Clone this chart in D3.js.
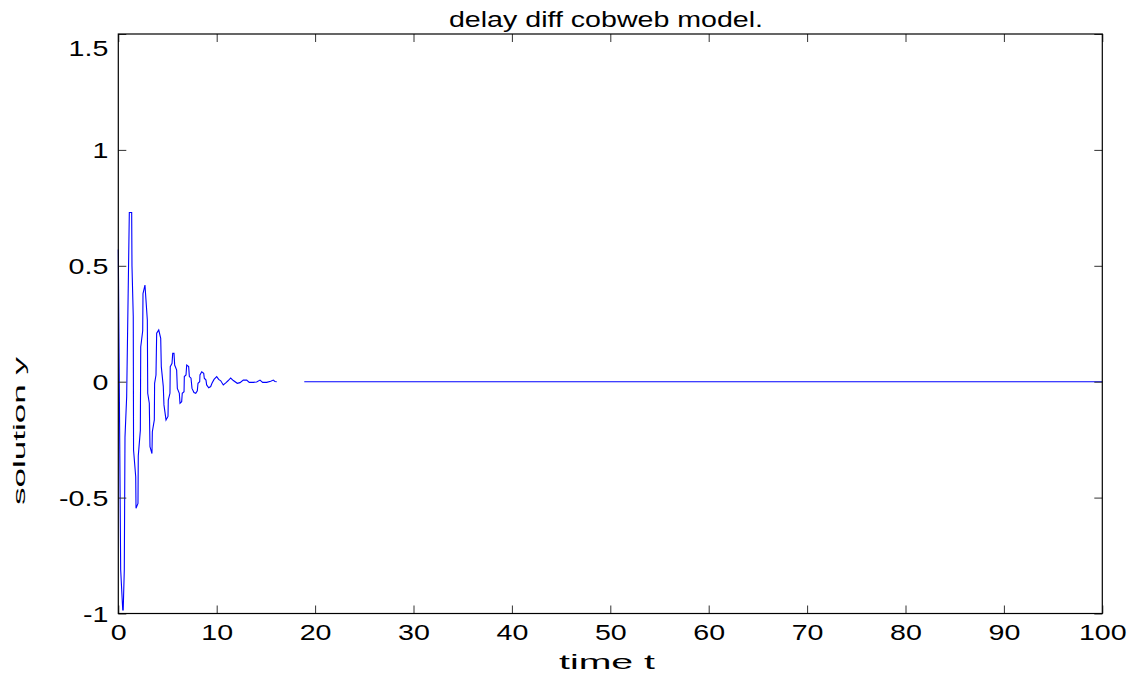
<!DOCTYPE html>
<html><head><meta charset="utf-8">
<script src="https://cdn.jsdelivr.net/npm/d3@7"></script>
<style>
html,body{margin:0;padding:0;background:#fff;}
svg text{font-family:"Liberation Sans",Arial,sans-serif;fill:#000;}
</style></head>
<body>
<svg id="chart" width="1133" height="680"></svg>
<script>
// ---- data ----
const chartTitle = "delay diff cobweb model.";
const xLabel = "time t";
const yLabel = "solution y";
const xTicks = [0,10,20,30,40,50,60,70,80,90,100];
const yTicks = [-1,-0.5,0,0.5,1,1.5];
const yTickLabels = ["-1","-0.5","0","0.5","1","1.5"];
// transient part of the solution
const tData = [0,0.24,0.45,0.50,0.61,0.68,0.85,1.12,1.36,1.39,
  1.42,1.52,1.55,1.77,1.80,2.00,2.03,2.24,2.28,2.48,
  2.51,2.71,2.95,2.99,3.15,3.22,3.42,3.46,3.66,3.69,
  3.83,3.90,4.11,4.31,4.37,4.57,4.64,4.85,5.05,5.08,
  5.25,5.28,5.46,5.53,5.66,5.73,5.93,6.00,6.20,6.27,
  6.44,6.50,6.68,6.71,6.88,6.95,7.15,7.22,7.39,7.49,
  7.69,7.87,8.03,8.10,8.27,8.30,8.48,8.68,8.74,8.91,
  8.98,9.19,9.39,9.52,9.73,10.0,10.2,10.41,10.67,10.95,
  11.15,11.42,11.69,12.09,12.37,12.70,13.05,13.31,13.72,14.06,
  14.40,14.67,15.08,15.49,15.75,15.92,16.1];
const yData = [0.57,-0.81,-0.985,-0.985,-0.81,-0.24,-0.065,0.73,0.73,0.50,
  0.45,0.28,-0.295,-0.41,-0.546,-0.525,-0.32,-0.21,0.15,0.22,
  0.38,0.417,0.266,-0.05,-0.093,-0.28,-0.31,-0.216,-0.165,-0.007,
  0.029,0.209,0.223,0.187,0.065,-0.02,-0.1,-0.165,-0.15,-0.079,
  -0.05,0.065,0.079,0.122,0.122,0.072,0.05,-0.029,-0.05,-0.093,
  -0.086,-0.05,-0.043,0.022,0.029,0.072,0.065,0.022,0.015,-0.029,
  -0.047,-0.05,-0.039,-0.007,0,0.029,0.043,0.036,0.015,0.007,
  -0.014,-0.026,-0.021,-0.007,0.01,0.022,0.01,0.004,-0.014,-0.004,
  0.004,0.016,0.005,-0.007,-0.004,0.007,0.007,-0.003,-0.003,-0.001,
  0.007,-0.003,-0.003,0.002,0.007,0.001,0];
// settled part of the solution
const tFlat = [18.9, 100];
const yFlat = [0, 0];

// ---- layout ----
const L = 118.3, R = 1102.3, T = 34, B = 613.5;
const SX = 1.3; // horizontal stretch of the glyphs in the reference
const svg = d3.select("#chart");
const x = d3.scaleLinear().domain([0,100]).range([L,R]);
const y = d3.scaleLinear().domain([-1,1.5]).range([B,T]);

// data lines
const line = d3.line().x(d=>x(d[0])).y(d=>y(d[1]));
svg.append("path").datum(tData.map((t,i)=>[t,yData[i]]))
  .attr("d",line).attr("fill","none").attr("stroke","#0000ff").attr("stroke-width",1.1);
svg.append("path").datum(tFlat.map((t,i)=>[t,yFlat[i]]))
  .attr("d",line).attr("fill","none").attr("stroke","#0000ff").attr("stroke-width",1.1);

// axes
const tickCol = "#333";
const gB = svg.append("g").attr("transform",`translate(0,${B})`)
  .call(d3.axisBottom(x).tickValues(xTicks).tickSizeInner(-8).tickSizeOuter(0).tickPadding(11).tickFormat(d3.format("d")));
const gT = svg.append("g").attr("transform",`translate(0,${T})`)
  .call(d3.axisTop(x).tickValues(xTicks).tickSizeInner(-8).tickSizeOuter(0).tickFormat(""));
const gL = svg.append("g").attr("transform",`translate(${L},0)`)
  .call(d3.axisLeft(y).tickValues(yTicks).tickSizeInner(-8).tickSizeOuter(0).tickPadding(10)
    .tickFormat((d,i)=>yTickLabels[i]));
const gR = svg.append("g").attr("transform",`translate(${R},0)`)
  .call(d3.axisRight(y).tickValues(yTicks).tickSizeInner(-8).tickSizeOuter(0).tickFormat(""));
[gB,gT,gL,gR].forEach(g=>{
  g.select(".domain").remove();
  g.selectAll(".tick line").attr("stroke",tickCol);
  g.selectAll("text").attr("font-size","22px").attr("font-family","Liberation Sans, Arial, sans-serif").attr("fill","#000");
});
gB.selectAll(".tick text").attr("transform",`scale(${SX},1)`);
gL.selectAll(".tick text").attr("x",-10/SX).attr("transform",`scale(${SX},1)`)
  .attr("dy",(d)=> d===1.5 ? "1.0em" : "0.36em");

// frame
svg.append("rect").attr("x",L).attr("y",T).attr("width",R-L).attr("height",B-T)
  .attr("fill","none").attr("stroke","#000").attr("stroke-width",1.2);

// title & labels
svg.append("text").attr("transform",`translate(606,26.7) scale(${SX},1)`)
  .attr("text-anchor","middle").attr("font-size","22px").text(chartTitle);
svg.append("text").attr("transform","translate(607,669)")
  .attr("text-anchor","middle").attr("font-size","21px")
  .attr("textLength",96).attr("lengthAdjust","spacingAndGlyphs").text(xLabel);
svg.append("text").attr("transform","translate(25,431) rotate(-90)")
  .attr("text-anchor","middle").attr("font-size","17px")
  .attr("textLength",148).attr("lengthAdjust","spacingAndGlyphs").text(yLabel);
</script>
</body></html>
